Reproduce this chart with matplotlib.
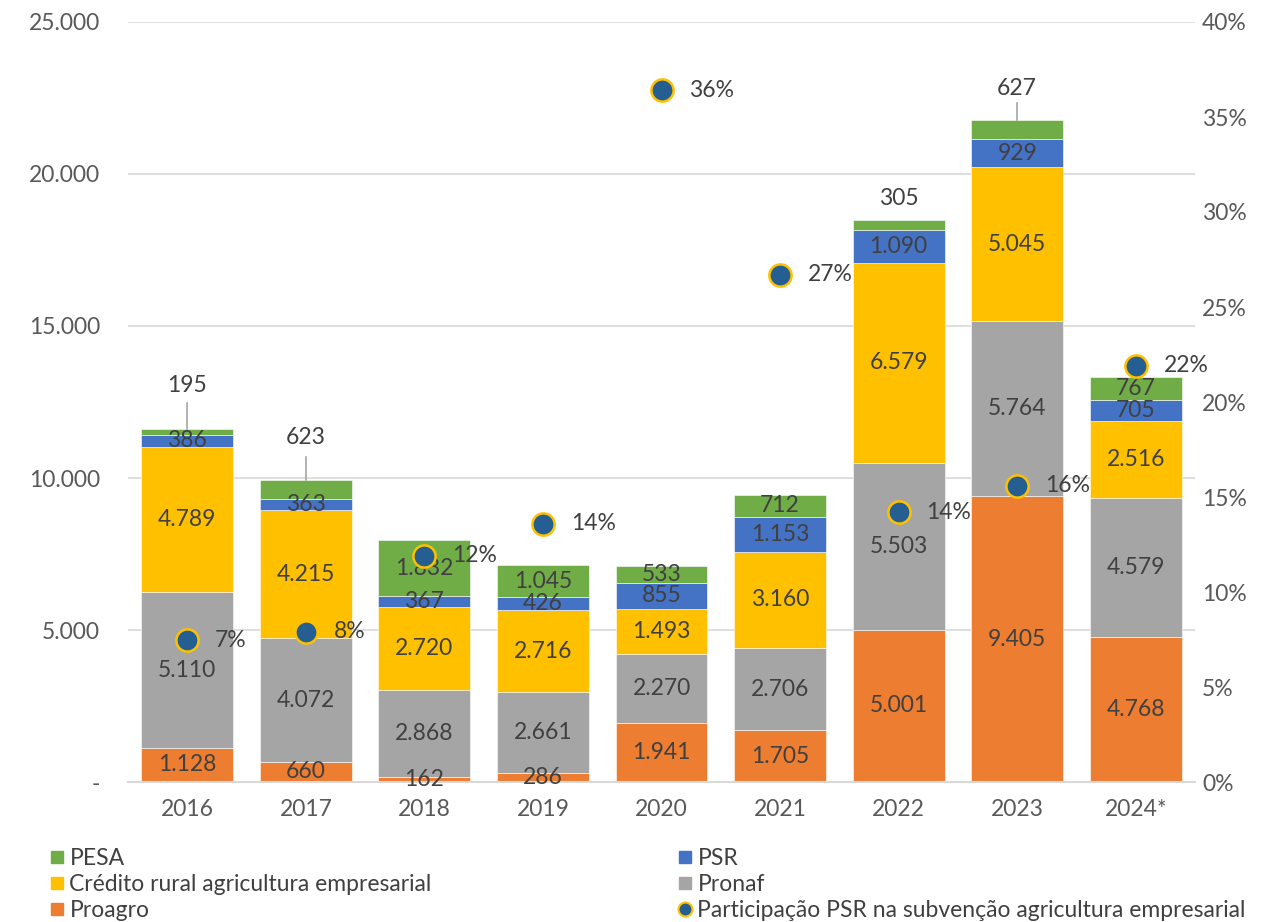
import numpy as np
import matplotlib
matplotlib.use("Agg")
import matplotlib.pyplot as plt
from matplotlib.lines import Line2D

plt.rcParams['font.family'] = ['Lato', 'DejaVu Sans']

# data
years = ['2016', '2017', '2018', '2019', '2020', '2021', '2022', '2023', '2024*']
proagro = [1128, 660, 162, 286, 1941, 1705, 5001, 9405, 4768]
pronaf = [5110, 4072, 2868, 2661, 2270, 2706, 5503, 5764, 4579]
credito = [4789, 4215, 2720, 2716, 1493, 3160, 6579, 5045, 2516]
psr = [386, 363, 367, 426, 855, 1153, 1090, 929, 705]
pesa = [195, 623, 1832, 1045, 533, 712, 305, 627, 767]
participacao = [7.46, 7.9, 11.9, 13.6, 36.4, 26.7, 14.2, 15.6, 21.9]  # %

# which PESA labels sit above the bar: (label offset, leader line length) in data units
pesa_outside = {0: (1450, 850), 1: (1400, 750), 6: (720, 0), 7: (1050, 550)}

colors = {
    'PESA': '#70AD47',
    'PSR': '#4472C4',
    'Crédito rural agricultura empresarial': '#FFC000',
    'Pronaf': '#A5A5A5',
    'Proagro': '#ED7D31',
}
txt = '#404040'
tick_c = '#595959'
grid_c = '#D9D9D9'
fs = 16.5


def fmt(v):
    return f"{v:,}".replace(',', '.')


fig = plt.figure(figsize=(12.81, 9.22), dpi=100)
ax = fig.add_axes([128 / 1281, 1 - 782 / 922, (1195 - 128) / 1281, (782 - 22) / 922])

x = np.arange(len(years))
w = 0.776
series = [('Proagro', proagro), ('Pronaf', pronaf),
          ('Crédito rural agricultura empresarial', credito),
          ('PSR', psr), ('PESA', pesa)]

bottom = np.zeros(len(years))
for name, vals in series:
    vals = np.array(vals, dtype=float)
    ax.bar(x, vals, w, bottom=bottom, color=colors[name], edgecolor='white',
           linewidth=0.4, zorder=2)
    for i, v in enumerate(vals):
        if name == 'PESA' and i in pesa_outside:
            off, line = pesa_outside[i]
            top = bottom[i] + v
            if line > 0:
                ax.plot([x[i], x[i]], [top, top + line], color='#A6A6A6', lw=1.2, zorder=3)
            ax.text(x[i], top + off, fmt(int(v)), ha='center', va='center',
                    fontsize=fs, color=txt, zorder=4)
        else:
            ax.text(x[i], bottom[i] + v / 2, fmt(int(v)), ha='center', va='center',
                    fontsize=fs, color=txt, zorder=4)
    bottom += vals

ax.set_xlim(-0.5, len(years) - 0.5)
ax.set_ylim(0, 25000)
ax.set_yticks(np.arange(0, 25001, 5000))
ax.set_yticklabels(['-'] + [fmt(v) for v in range(5000, 25001, 5000)])
ax.set_xticks(x)
ax.set_xticklabels(years)
ax.yaxis.grid(True, color=grid_c, lw=1.2, zorder=0)
ax.set_axisbelow(True)
for s in ['top', 'right', 'left']:
    ax.spines[s].set_visible(False)
ax.spines['bottom'].set_color(grid_c)
ax.spines['bottom'].set_linewidth(1.5)
ax.tick_params(axis='both', length=0, labelsize=fs, colors=tick_c)
ax.tick_params(axis='x', pad=12)
ax.tick_params(axis='y', pad=20)

ax2 = ax.twinx()
ax2.set_ylim(0, 40)
ax2.set_yticks(np.arange(0, 41, 5))
ax2.set_yticklabels([f"{v}%" for v in range(0, 41, 5)])
ax2.tick_params(axis='y', length=0, labelsize=fs, colors=tick_c, pad=5)
for s in ax2.spines.values():
    s.set_visible(False)
ax2.plot(x, participacao, 'o', ms=16, mfc='#255E91', mec='#FFC000', mew=1.8,
         linestyle='none', zorder=5)
for i, p in enumerate(participacao):
    ax2.annotate(f"{round(p)}%", (x[i], p), xytext=(20, 0), textcoords='offset points',
                 ha='left', va='center', fontsize=fs, color=txt)

# legend in two columns
sq = dict(marker='s', linestyle='none', markersize=9)
left = [Line2D([], [], color=colors['PESA'], **sq),
        Line2D([], [], color=colors['Crédito rural agricultura empresarial'], **sq),
        Line2D([], [], color=colors['Proagro'], **sq)]
right = [Line2D([], [], color=colors['PSR'], **sq),
         Line2D([], [], color=colors['Pronaf'], **sq),
         Line2D([], [], marker='o', linestyle='none', markersize=10,
                mfc='#255E91', mec='#FFC000', mew=1.5)]
kw = dict(loc='upper left', frameon=False, fontsize=fs, handlelength=0.6,
          handletextpad=0.25, labelspacing=0.22, borderaxespad=0, borderpad=0,
          labelcolor=txt)
fig.legend(left, ['PESA', 'Crédito rural agricultura empresarial', 'Proagro'],
           bbox_to_anchor=(50 / 1281, 1 - 848 / 922), **kw)
fig.legend(right, ['PSR', 'Pronaf', 'Participação PSR na subvenção agricultura empresarial'],
           bbox_to_anchor=(678 / 1281, 1 - 848 / 922), **kw)

fig.savefig('out.png', dpi=100, facecolor='white')
